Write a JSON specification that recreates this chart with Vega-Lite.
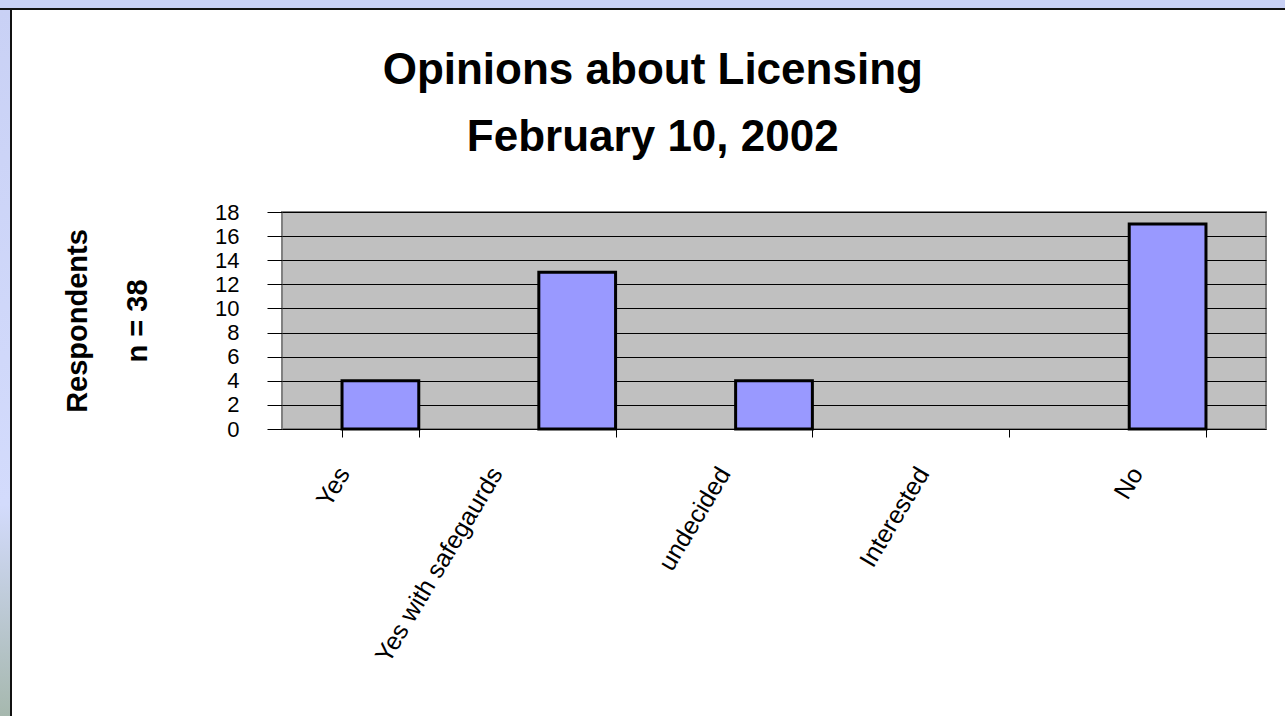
{
  "$schema": "https://vega.github.io/schema/vega-lite/v6.json",
  "background": "white",
  "padding": 0,
  "spacing": 0,
  "config": {
    "view": {"stroke": null},
    "font": "Liberation Sans",
    "concat": {"spacing": 0}
  },
  "datasets": {
    "opinions": [
      {"answer": "Yes", "count": 4},
      {"answer": "Yes with safegaurds", "count": 13},
      {"answer": "undecided", "count": 4},
      {"answer": "Interested", "count": 0},
      {"answer": "No", "count": 17}
    ],
    "one": [{"k": 1}]
  },
  "vconcat": [
    {
      "data": {"name": "one"},
      "width": 1285, "height": 8,
      "mark": {"type": "rect", "color": "#c8d0f4"},
      "encoding": {}
    },
    {
      "data": {"name": "one"},
      "width": 1285, "height": 2,
      "mark": {"type": "rect", "color": "#111111"},
      "encoding": {}
    },
    {
      "spacing": 0,
      "hconcat": [
        {
          "data": {"name": "one"},
          "width": 10, "height": 706,
          "mark": {"type": "rect", "color": {"gradient": "linear", "x1": 0, "y1": 0, "x2": 0, "y2": 1,
            "stops": [{"offset": 0, "color": "#c9d1f5"}, {"offset": 0.7, "color": "#d3dbfc"}, {"offset": 1, "color": "#a6b8ae"}]}},
          "encoding": {}
        },
        {
          "data": {"name": "one"},
          "width": 2, "height": 706,
          "mark": {"type": "rect", "color": "#111111"},
          "encoding": {}
        },
        {
          "data": {"name": "one"},
          "width": 50, "height": 706,
          "mark": {"type": "rect", "color": "white"},
          "encoding": {}
        },
        {
          "spacing": 0,
          "vconcat": [
            {
              "data": {"name": "one"},
              "width": 10, "height": 38,
              "mark": {"type": "rect", "color": "white"},
              "encoding": {}
            },
            {
              "data": {"name": "opinions"},
              "transform": [{"filter": "datum.count > 0"}],
              "width": 984,
              "height": 217,
              "view": {"fill": "#c0c0c0", "stroke": "#808080", "strokeWidth": 2},
              "title": {
                "text": ["Opinions about Licensing", "February 10, 2002"],
                "fontSize": 44,
                "fontWeight": "bold",
                "lineHeight": 67,
                "anchor": "middle",
                "frame": "bounds",
                "dx": -12,
                "offset": 41,
                "color": "black"
              },
              "mark": {"type": "bar", "color": "#9999ff", "stroke": "black", "strokeWidth": 3},
              "encoding": {
                "x": {
                  "field": "answer",
                  "type": "nominal",
                  "sort": null,
                  "scale": {"domain": ["Yes", "Yes with safegaurds", "undecided", "Interested", "No"], "paddingInner": 0.61, "paddingOuter": 0.305},
                  "axis": {
                    "title": null,
                    "domain": false,
                    "tickBand": "extent",
                    "tickSize": 8,
                    "tickColor": "black",
                    "labelAngle": -59,
                    "labelAlign": "right",
                    "labelBaseline": "middle",
                    "labelFontSize": 25,
                    "labelColor": "black",
                    "labelLimit": 0,
                    "labelOverlap": false,
                    "labelOffset": {"expr": "datum.label == 'Yes' ? -37 : datum.label == 'No' ? -31 : datum.label == 'undecided' ? -50 : datum.label == 'Interested' ? -48 : -81"},
                    "labelPadding": 32
                  }
                },
                "y": {
                  "field": "count",
                  "type": "quantitative",
                  "scale": {"domain": [0, 18], "nice": false},
                  "axis": {
                    "values": [0, 2, 4, 6, 8, 10, 12, 14, 16, 18],
                    "domain": false,
                    "grid": true,
                    "gridColor": "black",
                    "gridOpacity": 1,
                    "gridWidth": 1,
                    "tickSize": 15,
                    "tickColor": "black",
                    "labelFontSize": 22,
                    "labelColor": "black",
                    "labelPadding": 28,
                    "labelBaseline": "middle",
                    "labelOverlap": false,
                    "labelFlush": false,
                    "title": ["Respondents", "n = 38"],
                    "titleFontSize": 29,
                    "titleFontWeight": "bold",
                    "titleColor": "black",
                    "titleLineHeight": 60,
                    "titlePadding": 62
                  }
                }
              }
            }
          ]
        }
      ]
    }
  ]
}
